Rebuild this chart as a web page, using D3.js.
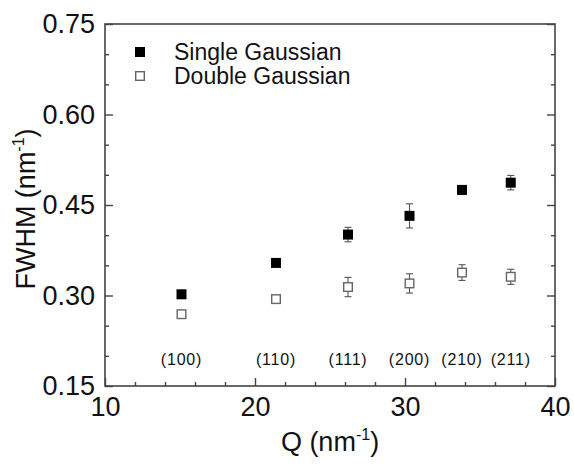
<!DOCTYPE html>
<html>
<head>
<meta charset="utf-8">
<script src="https://cdn.jsdelivr.net/npm/d3@7"></script>
<style>
  body { margin: 0; background: #fff; }
  svg text { font-family: Arial, "Liberation Sans", sans-serif; fill: #111; }
</style>
</head>
<body>
<svg width="574" height="466"></svg>
<script>
// peak positions and widths
var qValues   = [15.1, 21.4, 26.2, 30.3, 33.8, 37.05];
var planes    = ["(100)", "(110)", "(111)", "(200)", "(210)", "(211)"];
var single    = [0.302, 0.354, 0.401, 0.432, 0.475, 0.487];
var singleErr = [0.004, 0.004, 0.012, 0.020, 0.007, 0.012];
var double    = [0.269, 0.294, 0.314, 0.320, 0.338, 0.331];
var doubleErr = [0.005, 0.004, 0.016, 0.016, 0.013, 0.0125];

var xTicks = [10, 20, 30, 40];
var yTicks = [0.15, 0.30, 0.45, 0.60, 0.75];
var xMinor = [12, 14, 16, 18, 22, 24, 26, 28, 32, 34, 36, 38];
var yMinor = [0.20, 0.25, 0.35, 0.40, 0.50, 0.55, 0.65, 0.70];

var margin = {left: 105, top: 24},
    width = 450, height = 362;

var svg = d3.select("svg");
var g = svg.append("g")
           .attr("transform", "translate(" + margin.left + "," + margin.top + ")");

var xScale = d3.scaleLinear().domain([10, 40]).range([0, width]);
var yScale = d3.scaleLinear().domain([0.15, 0.75]).range([height, 0]);

// frame
g.append("rect")
 .attr("width", width).attr("height", height)
 .attr("fill", "none").attr("stroke", "#444").attr("stroke-width", 1.6);

function styleAxis(sel) {
  sel.select(".domain").remove();
  sel.selectAll("line").attr("stroke", "#444").attr("stroke-width", 1.4);
  sel.selectAll("text").style("font-size", "27px").attr("fill", "#111");
}

// left axis
g.append("g")
 .call(d3.axisLeft(yScale).tickValues(yTicks).tickFormat(d3.format(".2f"))
        .tickSize(-8).tickPadding(10))
 .call(styleAxis);
g.append("g")
 .call(d3.axisLeft(yScale).tickValues(yMinor).tickFormat("").tickSize(-4))
 .call(styleAxis);

// right axis (ticks only)
g.append("g").attr("transform", "translate(" + width + ",0)")
 .call(d3.axisRight(yScale).tickValues(yTicks).tickFormat("").tickSize(-8))
 .call(styleAxis);
g.append("g").attr("transform", "translate(" + width + ",0)")
 .call(d3.axisRight(yScale).tickValues(yMinor).tickFormat("").tickSize(-4))
 .call(styleAxis);

// bottom axis
g.append("g").attr("transform", "translate(0," + height + ")")
 .call(d3.axisBottom(xScale).tickValues(xTicks).tickSize(-8).tickPadding(11))
 .call(styleAxis);
g.append("g").attr("transform", "translate(0," + height + ")")
 .call(d3.axisBottom(xScale).tickValues(xMinor).tickFormat("").tickSize(-4))
 .call(styleAxis);

// axis titles
var xt = svg.append("text")
   .attr("x", margin.left + width / 2).attr("y", 451)
   .attr("text-anchor", "middle").style("font-size", "27px");
xt.append("tspan").text("Q (nm");
xt.append("tspan").attr("dy", -11).style("font-size", "16px").text("-1");
xt.append("tspan").attr("dy", 11).text(")");

var yt = svg.append("text")
   .attr("transform", "translate(35," + (margin.top + height / 2 + 4) + ") rotate(-90)")
   .attr("text-anchor", "middle").style("font-size", "27px");
yt.append("tspan").text("FWHM (nm");
yt.append("tspan").attr("dy", -11).style("font-size", "16px").text("-1");
yt.append("tspan").attr("dy", 11).text(")");

var pts = qValues.map(function(q, i) {
  return {q: q, s: single[i], se: singleErr[i], d: double[i], de: doubleErr[i], p: planes[i]};
});

// error bars
function errorBars(key, errKey) {
  var eb = g.append("g").attr("stroke", "#555").attr("stroke-width", 1.1);
  pts.forEach(function(d) {
    var x = xScale(d.q), y1 = yScale(d[key] - d[errKey]), y2 = yScale(d[key] + d[errKey]);
    eb.append("line").attr("x1", x).attr("x2", x).attr("y1", y1).attr("y2", y2);
    eb.append("line").attr("x1", x - 3.5).attr("x2", x + 3.5).attr("y1", y1).attr("y2", y1);
    eb.append("line").attr("x1", x - 3.5).attr("x2", x + 3.5).attr("y1", y2).attr("y2", y2);
  });
}
errorBars("d", "de");
errorBars("s", "se");

var sz = 10;
g.selectAll(".dbl").data(pts).enter().append("rect")
 .attr("x", function(d) { return xScale(d.q) - sz / 2 + 0.7; })
 .attr("y", function(d) { return yScale(d.d) - sz / 2 + 0.7; })
 .attr("width", sz - 1.4).attr("height", sz - 1.4)
 .attr("fill", "#fff").attr("stroke", "#666").attr("stroke-width", 1.4);

g.selectAll(".sgl").data(pts).enter().append("rect")
 .attr("x", function(d) { return xScale(d.q) - sz / 2; })
 .attr("y", function(d) { return yScale(d.s) - sz / 2; })
 .attr("width", sz).attr("height", sz)
 .attr("fill", "#000");

// plane labels
g.selectAll(".plane").data(pts).enter().append("text")
 .attr("x", function(d) { return xScale(d.q); })
 .attr("y", 341)
 .attr("text-anchor", "middle")
 .style("font-size", "16px").style("letter-spacing", "0.8px")
 .attr("fill", "#222")
 .text(function(d) { return d.p; });

// legend
var legend = svg.append("g");
legend.append("rect").attr("x", 135).attr("y", 47).attr("width", 10).attr("height", 10).attr("fill", "#000");
legend.append("text").attr("x", 174).attr("y", 60).style("font-size", "23px").text("Single Gaussian");
legend.append("rect").attr("x", 135.7).attr("y", 71.7).attr("width", 8.6).attr("height", 8.6)
      .attr("fill", "#fff").attr("stroke", "#666").attr("stroke-width", 1.4);
legend.append("text").attr("x", 174).attr("y", 84).style("font-size", "23px").text("Double Gaussian");
</script>
</body>
</html>
